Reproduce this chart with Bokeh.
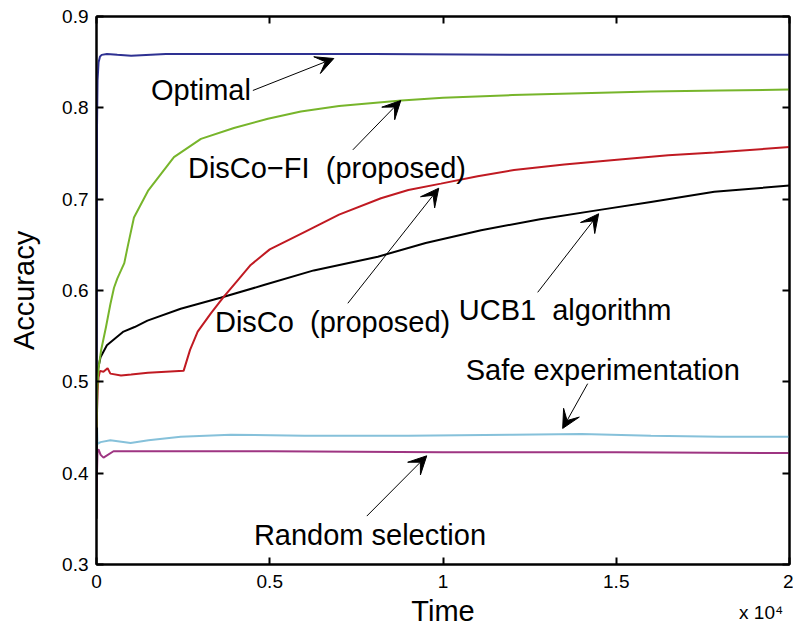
from bokeh.plotting import figure
from bokeh.models import (Range1d, LinearAxis, FixedTicker, Label, Arrow, VeeHead, CustomJSTickFormatter)
from bokeh.embed import file_html
from bokeh.resources import INLINE

# ---------------- data ----------------
t_opt = [0, 15, 30, 60, 100, 150, 300, 600, 1000, 2000, 3000, 5000, 8000, 12000, 16000, 20000]
y_opt = [0.45, 0.78, 0.83, 0.850, 0.856, 0.858, 0.859, 0.858, 0.857, 0.859, 0.859, 0.859, 0.859, 0.858, 0.858, 0.858]

t_fi = [0, 20, 60, 130, 274, 400, 505, 600, 707, 802, 900, 1081, 1485, 2235, 3014, 3966, 4947,
        5898, 7000, 8800, 10000, 12000, 14000, 16000, 18000, 20000]
y_fi = [0.45, 0.49, 0.515, 0.534, 0.560, 0.585, 0.603, 0.613, 0.622, 0.630, 0.648, 0.680, 0.709,
        0.746, 0.766, 0.778, 0.788, 0.796, 0.802, 0.808, 0.811, 0.814, 0.816, 0.818, 0.819, 0.820]

t_disco = [0, 30, 60, 100, 200, 320, 400, 707, 1000, 1485, 2000, 2514, 2700, 2920, 3300, 3670, 4050,
           4450, 5000, 6000, 7000, 8210, 9000, 9940, 11000, 12050, 13500, 14940, 16500, 17830, 20000]
y_disco = [0.45, 0.49, 0.505, 0.512, 0.511, 0.515, 0.509, 0.507, 0.508, 0.510, 0.511, 0.512, 0.535,
           0.555, 0.575, 0.593, 0.610, 0.628, 0.645, 0.664, 0.683, 0.701, 0.710, 0.717, 0.725, 0.732,
           0.738, 0.743, 0.748, 0.751, 0.757]

t_ucb = [0, 20, 50, 116, 200, 300, 491, 780, 1100, 1470, 2430, 3580, 4830, 6270, 8120, 9500,
         11100, 12800, 14480, 16000, 17830, 20000]
y_ucb = [0.35, 0.50, 0.515, 0.527, 0.533, 0.540, 0.546, 0.555, 0.560, 0.567, 0.580, 0.592, 0.606,
         0.622, 0.637, 0.652, 0.666, 0.678, 0.688, 0.697, 0.708, 0.715]

t_safe = [0, 30, 116, 400, 983, 1500, 2430, 3870, 6000, 9000, 12000, 14000, 16000, 18000, 20000]
y_safe = [0.47, 0.432, 0.434, 0.436, 0.433, 0.436, 0.440, 0.442, 0.441, 0.441, 0.442, 0.443, 0.441, 0.440, 0.440]

t_rand = [0, 30, 58, 120, 202, 491, 1000, 2000, 5000, 10000, 15000, 20000]
y_rand = [0.38, 0.425, 0.426, 0.420, 0.417, 0.424, 0.424, 0.424, 0.424, 0.423, 0.423, 0.422]

x_ticks = [0, 5000, 10000, 15000, 20000]
x_tick_labels = ["0", "0.5", "1", "1.5", "2"]
y_ticks = [0.3, 0.4, 0.5, 0.6, 0.7, 0.8, 0.9]
x_multiplier_text = "x 10\u2074"
x_multiplier_at = 19180   # centre of the multiplier text, in time units

# annotation texts and arrows (text position, arrow start, arrow tip)
ann_text = ["Optimal", "DisCo\u2212FI \u00a0(proposed)", "DisCo \u00a0(proposed)", "UCB1 \u00a0algorithm",
            "Safe experimentation", "Random selection"]
ann_tx = [1572, 2639, 3418, 10455, 10657, 4542]
ann_ty = [0.820, 0.734, 0.565, 0.579, 0.513, 0.332]
arr_x0 = [4513, 7398, 7253, 12733, 14175, 7801]
arr_y0 = [0.819, 0.754, 0.586, 0.598, 0.498, 0.353]
arr_x1 = [6849, 8782, 9877, 14492, 13454, 9531]
arr_y1 = [0.854, 0.808, 0.712, 0.684, 0.449, 0.419]

FONT = "Liberation Sans"

p = figure(width=793, height=630, output_backend="svg", toolbar_location=None,
           x_range=Range1d(0, 20000), y_range=Range1d(0.3, 0.9),
           min_border_left=96, min_border_right=4, min_border_top=16, min_border_bottom=66)
p.background_fill_color = "white"
p.border_fill_color = "white"
p.outline_line_color = "black"
p.outline_line_width = 2
p.grid.visible = False

series = [
    (t_opt, y_opt, "#2e3192"),
    (t_safe, y_safe, "#86c1da"),
    (t_rand, y_rand, "#9e3582"),
    (t_ucb, y_ucb, "black"),
    (t_disco, y_disco, "#c01a22"),
    (t_fi, y_fi, "#77b52b"),
]
for tx, ty, c in series:
    p.line(tx, ty, line_color=c, line_width=2)

# axes
def style_axis(ax):
    ax.axis_line_color = "black"
    ax.axis_line_width = 2
    ax.major_tick_in = 7
    ax.major_tick_out = 0
    ax.minor_tick_in = 0
    ax.minor_tick_out = 0
    ax.major_tick_line_width = 2
    ax.major_tick_line_color = "black"
    ax.major_label_text_font = FONT
    ax.major_label_text_color = "black"
    ax.major_label_text_font_size = "19px"

xa = p.xaxis[0]
xa.ticker = FixedTicker(ticks=x_ticks)
xa.major_label_overrides = {k: v for k, v in zip(x_ticks, x_tick_labels)}
style_axis(xa)
xa.major_label_standoff = 10

# second (label-only) axis below: multiplier as its tick label, "Time" as its title
xb = LinearAxis(ticker=FixedTicker(ticks=[x_multiplier_at]))
xb.major_label_overrides = {x_multiplier_at: x_multiplier_text}
style_axis(xb)
xb.axis_line_color = None
xb.major_tick_line_color = None
xb.major_tick_in = 0
xb.major_label_standoff = 11
xb.axis_label = "Time"
xb.axis_label_text_font = FONT
xb.axis_label_text_color = "black"
xb.axis_label_text_font_style = "normal"
xb.axis_label_text_font_size = "29px"
xb.axis_label_standoff = -31
p.add_layout(xb, "below")

ya = p.yaxis[0]
ya.ticker = FixedTicker(ticks=y_ticks)
style_axis(ya)
ya.major_label_standoff = 8
ya.axis_label = "Accuracy"
ya.axis_label_text_font = FONT
ya.axis_label_text_color = "black"
ya.axis_label_text_font_style = "normal"
ya.axis_label_text_font_size = "29px"
ya.axis_label_standoff = 19

blank = CustomJSTickFormatter(code="return '';")
top = LinearAxis(ticker=FixedTicker(ticks=x_ticks), formatter=blank)
style_axis(top)
top.major_label_standoff = 0
p.add_layout(top, "above")
right = LinearAxis(ticker=FixedTicker(ticks=y_ticks), formatter=blank)
style_axis(right)
right.major_label_standoff = 0
p.add_layout(right, "right")

# annotations
for txt, tx, ty, x0, y0, x1, y1 in zip(ann_text, ann_tx, ann_ty, arr_x0, arr_y0, arr_x1, arr_y1):
    p.add_layout(Label(x=tx, y=ty, text=txt, text_font=FONT, text_font_size="29px",
                       text_color="black", text_baseline="middle", text_align="left"))
    p.add_layout(Arrow(x_start=x0, y_start=y0, x_end=x1, y_end=y1, line_width=1, line_color="black",
                       end=VeeHead(size=18, fill_color="black", line_color="black", line_width=1)))

open("out.html", "w").write(file_html(p, INLINE))
